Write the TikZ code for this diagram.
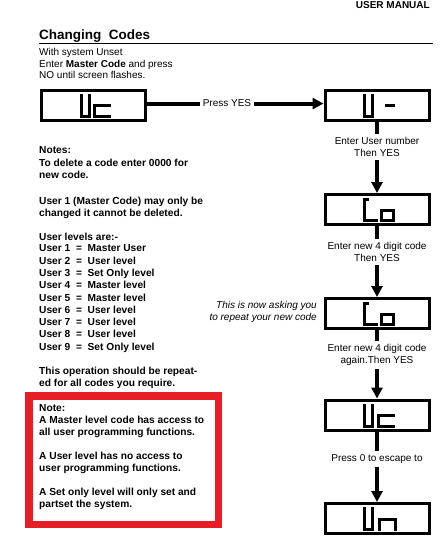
\documentclass[tikz,border=0pt]{standalone}
\usepackage{fontspec}
\setmainfont{Liberation Sans}
\usetikzlibrary{arrows.meta}
\definecolor{alarmred}{RGB}{232,30,38}

\begin{document}
\begin{tikzpicture}[x=1pt, y=-1pt,
  display/.style={draw, line width=3pt, minimum width=104pt, minimum height=30pt, inner sep=0pt},
  seg/.style={line width=3pt, line cap=rect, line join=miter},
  flow/.style={line width=4pt},
  flowarrow/.style={flow, -{Triangle[length=11pt, width=11pt]}},
  steplabel/.style={font=\fontsize{10}{12.3}\selectfont, align=center, inner sep=3pt},
  asklabel/.style={font=\itshape\fontsize{10}{11.7}\selectfont, align=right, inner sep=0pt},
  body/.style={font=\fontsize{10}{11.7}\selectfont, align=left, inner sep=0pt},
  note/.style={font=\bfseries\fontsize{10.2}{12.3}\selectfont, align=left, inner sep=0pt},
  lcd Uc/.pic={
    \draw[seg] (-12.5,-10) -- (-12.5,11) -- (-4.5,11) -- (-4.5,-10);
    \draw[seg] (16,0.5) -- (1,0.5) -- (1,11) -- (16,11);
  },
  lcd Udash/.pic={
    \draw[seg] (-12.5,-10) -- (-12.5,11) -- (-4.5,11) -- (-4.5,-10);
    \draw[seg] (9.5,0.5) -- (16.5,0.5);
  },
  lcd Co/.pic={
    \draw[seg] (-9.5,-10) -- (-12.5,-10) -- (-12.5,11) -- (-0.5,11);
    \draw[seg] (4.5,0.5) rectangle (16.5,11);
  },
  lcd Un/.pic={
    \draw[seg] (-12.5,-10) -- (-12.5,11) -- (-4.5,11) -- (-4.5,-10);
    \draw[seg] (2.5,11) -- (2.5,0.5) -- (18.5,0.5) -- (18.5,11);
  }]

  \useasboundingbox (0,0) rectangle (445,548);

  % En-tete (base = derniere ligne)
  \node[font=\bfseries\fontsize{10}{12}\selectfont, anchor=base east, inner sep=0pt] (manual) at (430,8.5) {USER MANUAL};
  \node[font=\bfseries\fontsize{13.5}{16}\selectfont, anchor=base west, inner sep=0pt] (title) at (39,40) {Changing\ \ Codes};
  \draw[line width=1.2pt] (39,43.8) -- (433,43.8);
  \node[body, anchor=base west] (intro) at (39,79) {With system Unset\\Enter \textbf{Master Code} and press\\NO until screen flashes.};

  % Afficheurs
  \node[display] (uc1) at (93.5,105.5) {};
  \node[display] (udash) at (377,105.5) {};
  \node[display] (co1) at (377,209.5) {};
  \node[display] (co2) at (377,313.5) {};
  \node[display] (uc2) at (377,415) {};
  \node[display] (un) at (377,518.5) {};
  \pic at (uc1) {lcd Uc};
  \pic at (udash) {lcd Udash};
  \pic at (co1) {lcd Co};
  \pic at (co2) {lcd Co};
  \pic at (uc2) {lcd Uc};
  \pic at (un) {lcd Un};

  % Etapes
  \node[steplabel, anchor=base] (pressyes) at (227,107) {Press YES};
  \node[steplabel, anchor=base] (usernum) at (377,157) {Enter User number\\Then YES};
  \node[steplabel, anchor=base] (newcode) at (377,261.5) {Enter new 4 digit code\\Then YES};
  \node[steplabel, anchor=base] (again) at (377,363.5) {Enter new 4 digit code\\again.Then YES};
  \node[steplabel, anchor=base] (escape) at (377,461.5) {Press 0 to escape to};
  \node[asklabel, anchor=base east] (ask) at (317,320.5) {This is now asking you\\to repeat your new code};

  % Fleches
  \draw[flow] (pressyes.west -| uc1.east) -- (pressyes.west);
  \draw[flowarrow] (pressyes.east) -- (pressyes.east -| udash.west);
  \draw[flow] (udash) -- (usernum);
  \draw[flowarrow] (usernum) -- (co1);
  \draw[flow] (co1) -- (newcode);
  \draw[flowarrow] (newcode) -- (co2);
  \draw[flow] (co2) -- (again);
  \draw[flowarrow] (again) -- (uc2);
  \draw[flow] (uc2) -- (escape);
  \draw[flowarrow] (escape) -- (un);

  % Notes
  \node[note, anchor=base west] (notes) at (39,178.5) {Notes:\\To delete a code enter 0000 for\\new code.};
  \node[note, anchor=base west] (master) at (39,216.3) {User 1 (Master Code) may only be\\changed it cannot be deleted.};
  \node[note, anchor=base west] (levels) at (39,240) {User levels are:-};
  \foreach \n/\lvl in {1/Master User, 2/User level, 3/Set Only level, 4/Master level,
      5/Master level, 6/User level, 7/User level, 8/User level, 9/Set Only level}
    \node[note, anchor=base west] (user\n) at (39,{239.5+12.3*\n}) {User \n\ \ =\ \ \lvl};
  \node[note, anchor=base west] (repeat) at (39,386.5) {This operation should be repeat-\\ed for all codes you require.};

  % Cadre rouge
  \node[draw=alarmred, line width=7.5pt, minimum width=189.5pt, minimum height=128.5pt, inner sep=0pt] (frame) at (123.5,460) {};
  \node[note, font=\bfseries\fontsize{10.2}{12}\selectfont, anchor=base west] (access) at (39,507) {Note:\\A Master level code has access to\\all user programming functions.\\[12pt]A User level has no access to\\user programming functions.\\[12pt]A Set only level will only set and\\partset the system.};

\end{tikzpicture}
\end{document}
